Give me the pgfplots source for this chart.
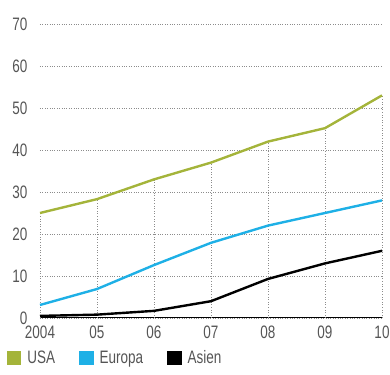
\documentclass[border=0pt]{standalone}
\usepackage{fontspec}
\setmainfont[FakeStretch=0.75]{Liberation Sans}
\usepackage{pgfplots}
\pgfplotsset{compat=1.18}
\definecolor{usa}{RGB}{164,180,58}
\definecolor{eur}{RGB}{30,176,230}
\definecolor{txt}{RGB}{85,85,85}
\definecolor{grd}{RGB}{140,140,140}
\begin{document}
\begin{tikzpicture}[x=1pt,y=1pt]
\useasboundingbox (-40,-56) rectangle (350,318);
\begin{axis}[
  at={(0,0)}, anchor=south west,
  scale only axis, width=342pt, height=294pt,
  xmin=0, xmax=6, ymin=0, ymax=70,
  xtick={0,...,6}, xticklabels={2004,05,06,07,08,09,10},
  ytick={0,10,...,70},
  axis x line*=bottom, axis y line*=left,
  y axis line style={draw=none},
  x axis line style={black, line width=1pt},
  major tick length=0pt,
  ymajorgrids, grid style={grd, dotted, line width=0.6pt},
  tick label style={font=\fontsize{18}{20}\selectfont, text=txt},
  /pgf/number format/assume math mode=true,
  yticklabel style={xshift=-9pt},
  xticklabel style={yshift=-4pt},
  clip=false,
  legend columns=3,
  legend style={at={(-0.097,-0.136)}, anchor=west, draw=none, fill=none, inner sep=0pt,
    font=\fontsize{18}{20}\selectfont\color{txt},
    /tikz/every odd column/.append style={column sep=4pt},
    /tikz/every even column/.append style={column sep=22pt}},
  legend image code/.code={\fill[#1] (0pt,-6pt) rectangle (12pt,6pt);},
]
\addplot[ycomb, grd, dotted, line width=0.6pt, forget plot] coordinates {(0,25) (1,28.3) (2,33) (3,37) (4,42) (5,45.2) (6,53)};
\addplot[usa, line width=2.4pt] coordinates {(0,25) (1,28.3) (2,33) (3,37) (4,42) (5,45.2) (6,53)};
\addplot[eur, line width=2.4pt] coordinates {(0,3.1) (1,6.9) (2,12.6) (3,17.9) (4,22) (5,25) (6,28)};
\addplot[black, line width=2.4pt] coordinates {(0,0.5) (1,0.8) (2,1.7) (3,4) (4,9.3) (5,13) (6,16)};
\legend{USA, Europa, Asien}
\end{axis}
\end{tikzpicture}
\end{document}
